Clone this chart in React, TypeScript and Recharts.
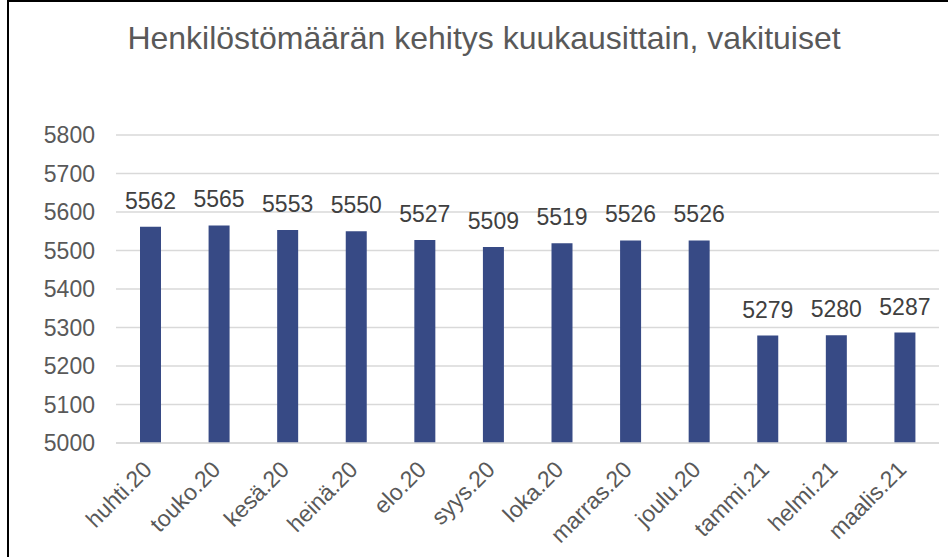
import React from "react";
import { BarChart, Bar, XAxis, YAxis, CartesianGrid, LabelList } from "recharts";

const months = ["huhti.20", "touko.20", "kesä.20", "heinä.20", "elo.20", "syys.20", "loka.20", "marras.20", "joulu.20", "tammi.21", "helmi.21", "maalis.21"];
const values = [5562, 5565, 5553, 5550, 5527, 5509, 5519, 5526, 5526, 5279, 5280, 5287];
const yTicks = [5000, 5100, 5200, 5300, 5400, 5500, 5600, 5700, 5800];
const title = "Henkilöstömäärän kehitys kuukausittain, vakituiset";

const data = months.map((m, i) => ({ name: m, value: values[i] }));

const FONT = "'Liberation Sans', Arial, sans-serif";

const XTick = (props: any) => {
  const { x, payload } = props;
  return (
    <g transform={`translate(${x + 3},${471})`}>
      <text transform="rotate(-45)" textAnchor="end" fill="#595959" fontSize={23} fontFamily={FONT}>
        {payload.value}
      </text>
    </g>
  );
};

export default function App() {
  return (
    <div style={{ position: "absolute", left: 0, top: 0, width: 948, height: 557, background: "#fff", overflow: "hidden" }}>
      <div style={{ position: "absolute", left: 7, top: 0, width: 941, height: 557, borderLeft: "2px solid #000", borderTop: "2px solid #000", boxSizing: "border-box" }} />
      <div style={{ position: "absolute", left: 0, top: 20, width: 968, textAlign: "center", fontFamily: FONT, fontSize: 32, color: "#595959", whiteSpace: "nowrap" }}>
        {title}
      </div>
      <div style={{ position: "absolute", left: 0, top: 0 }}>
        <BarChart width={948} height={557} data={data} margin={{ top: 135, right: 9, bottom: 0, left: 0 }}>
          <CartesianGrid vertical={false} stroke="#d9d9d9" strokeWidth={1.5} />
          <XAxis dataKey="name" axisLine={{ stroke: "#d9d9d9", strokeWidth: 1.5 }} tickLine={false} interval={0} tick={<XTick />} height={114} />
          <YAxis width={116} domain={[5000, 5800]} ticks={yTicks} axisLine={false} tickLine={false} tickSize={0} tickMargin={21} tick={{ fill: "#595959", fontSize: 23, fontFamily: FONT }} interval={0} />
          <Bar dataKey="value" fill="#374a85" isAnimationActive={false} barSize={21}>
            <LabelList dataKey="value" position="top" offset={18} fill="#404040" fontSize={23} fontFamily={FONT} />
          </Bar>
        </BarChart>
      </div>
    </div>
  );
}
